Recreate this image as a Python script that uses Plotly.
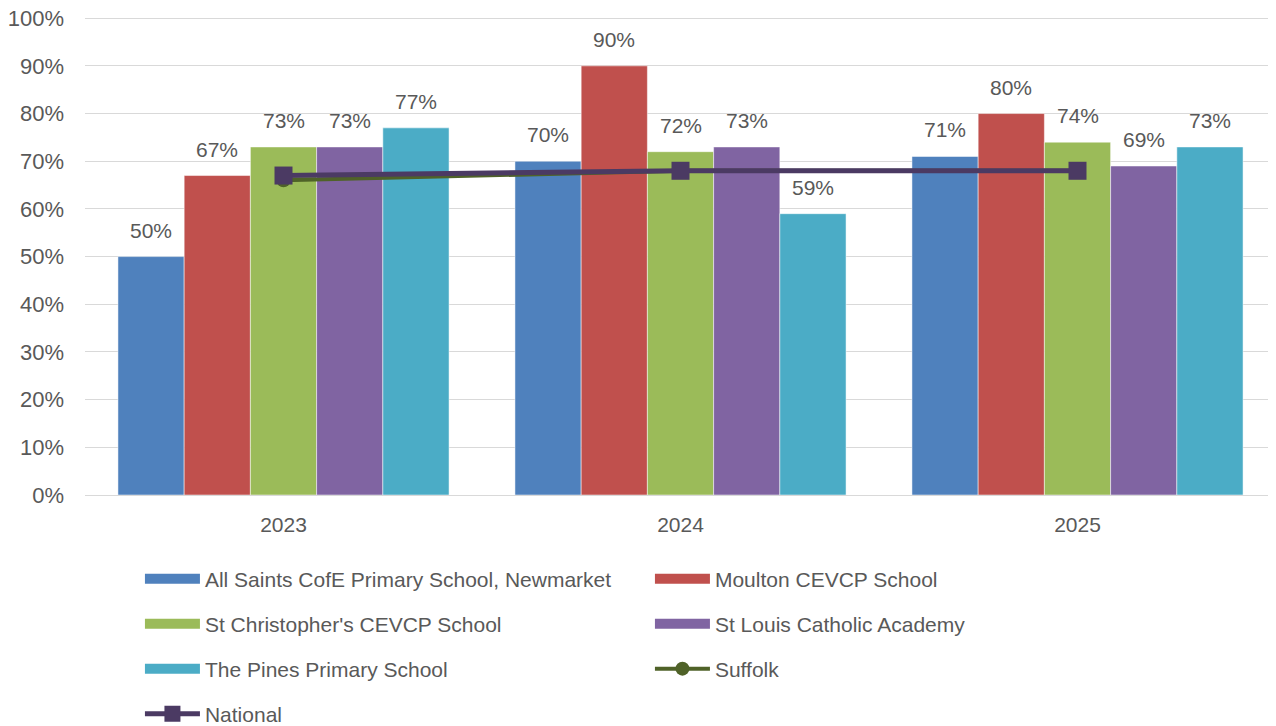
import plotly.graph_objects as go

years = ["2023", "2024", "2025"]
all_saints = [50, 70, 71]
moulton = [67, 90, 80]
st_christophers = [73, 72, 74]
st_louis = [73, 73, 69]
the_pines = [77, 59, 73]
suffolk = [66, 68, 68]
national = [67, 68, 68]
y_ticks = list(range(0, 101, 10))

bar_series = [
    ("All Saints CofE Primary School, Newmarket", all_saints, "#4F81BD", "legend"),
    ("Moulton CEVCP School", moulton, "#C0504D", "legend"),
    ("St Christopher's CEVCP School", st_christophers, "#9BBB59", "legend2"),
    ("St Louis Catholic Academy", st_louis, "#8064A2", "legend2"),
    ("The Pines Primary School", the_pines, "#4BACC6", "legend3"),
]

font_family = "Liberation Sans, Arial, sans-serif"
text_color = "#595959"
BARGAP = 0.166
n_bars = len(bar_series)

fig = go.Figure()
for i, (name, vals, color, leg) in enumerate(bar_series):
    fig.add_trace(go.Bar(
        x=years, y=vals, name=name, legendgroup=name, showlegend=False,
        marker=dict(color=color, line=dict(color="white", width=0.5)),
    ))
    # wide rectangular legend key for the bar series
    fig.add_trace(go.Scatter(
        x=[None], y=[None], name=name, legendgroup=name, legend=leg,
        mode="lines", line=dict(color=color, width=14), hoverinfo="skip",
    ))
    # data labels placed above each bar through the axis scales
    offset = (i - (n_bars - 1) / 2) * (1 - BARGAP) / n_bars
    for j, v in enumerate(vals):
        fig.add_annotation(
            x=j + offset, y=v, xref="x", yref="y",
            text=f"{v}%", showarrow=False, yanchor="bottom", yshift=13,
            font=dict(size=21, color=text_color, family=font_family),
        )

fig.add_trace(go.Scatter(
    x=years, y=suffolk, name="Suffolk", mode="lines+markers", legend="legend3",
    line=dict(color="#4F6228", width=4),
    marker=dict(symbol="circle", size=14, color="#4F6228"),
))
fig.add_trace(go.Scatter(
    x=years, y=national, name="National", mode="lines+markers", legend="legend4",
    line=dict(color="#4B3A63", width=5),
    marker=dict(symbol="square", size=18, color="#4B3A63"),
))

legend_base = dict(
    orientation="h", xref="container", yref="container",
    x=0.1034, xanchor="left", yanchor="middle",
    entrywidth=440, entrywidthmode="pixels", itemwidth=55,
    font=dict(size=21, color=text_color, family=font_family),
    traceorder="normal", bgcolor="rgba(0,0,0,0)",
)
row_y = [0.2135, 0.1515, 0.0895, 0.0275]

fig.update_layout(
    width=1276, height=726,
    margin=dict(l=77, r=8, t=9, b=239),
    paper_bgcolor="white", plot_bgcolor="white",
    barmode="group", bargap=BARGAP, bargroupgap=0,
    font=dict(family=font_family, color=text_color, size=21),
    xaxis=dict(
        showgrid=False, showline=True, linecolor="#D9D9D9", linewidth=1,
        tickfont=dict(size=21, color=text_color), ticks="", automargin=False,
        ticklabelstandoff=11,
    ),
    yaxis=dict(
        range=[0, 100.25], tickmode="array", tickvals=y_ticks,
        ticktext=[f"{t}%" for t in y_ticks],
        showgrid=True, gridcolor="#D9D9D9", gridwidth=1,
        zeroline=False, showline=False, automargin=False,
        ticklabeloverflow="allow",
        tickfont=dict(size=22, color=text_color), ticklabelstandoff=20,
    ),
    legend=dict(legend_base, y=row_y[0]),
    legend2=dict(legend_base, y=row_y[1]),
    legend3=dict(legend_base, y=row_y[2]),
    legend4=dict(legend_base, y=row_y[3]),
    showlegend=True,
)

fig.write_html("out.html")
